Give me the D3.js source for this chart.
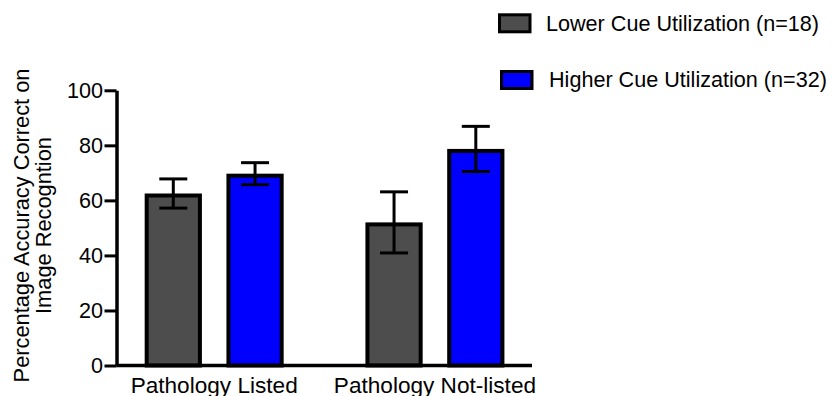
<!DOCTYPE html>
<html>
<head>
<meta charset="utf-8">
<script src="https://cdn.jsdelivr.net/npm/d3@7"></script>
<style>
  body { margin: 0; background: #fff; }
  svg text { font-family: "Liberation Sans", Arial, Helvetica, sans-serif; fill: #000; }
</style>
</head>
<body>
<svg id="chart" width="835" height="396"></svg>
<script>
const categories = ['Pathology Listed', 'Pathology Not-listed'];
const seriesNames = ['Lower Cue Utilization (n=18)', 'Higher Cue Utilization (n=32)'];
const seriesColors = ['#4d4d4d', '#0000ff'];
const lowerMeans = [62.5, 52.0];
const lowerErrors = [5.3, 11.1];
const higherMeans = [69.7, 78.7];
const higherErrors = [4.0, 8.2];
const yTicks = [0, 20, 40, 60, 80, 100];

const rows = [];
categories.forEach((c, i) => {
  rows.push({ cat: c, series: 0, mean: lowerMeans[i], err: lowerErrors[i] });
  rows.push({ cat: c, series: 1, mean: higherMeans[i], err: higherErrors[i] });
});

const svg = d3.select('#chart');

const y = d3.scaleLinear().domain([0, 100]).range([365.5, 90.3]);
const x0 = d3.scaleBand().domain(categories).range([103.8, 545.3]);
const x1 = d3.scaleBand().domain([0, 1]).range([0, x0.bandwidth()])
  .paddingInner(0.3).paddingOuter(0.5);

const bw = 4;

// bars
svg.append('g').selectAll('rect')
  .data(rows)
  .join('rect')
  .attr('x', d => x0(d.cat) + x1(d.series) + bw / 2)
  .attr('y', d => y(d.mean) + bw / 2)
  .attr('width', x1.bandwidth() - bw)
  .attr('height', d => y(0) - y(d.mean) - bw / 2)
  .attr('fill', d => seriesColors[d.series])
  .attr('stroke', '#000')
  .attr('stroke-width', bw);

// error bars
const eb = svg.append('g').attr('stroke', '#000').attr('stroke-width', 3);
const cx = d => x0(d.cat) + x1(d.series) + x1.bandwidth() / 2;
rows.forEach(d => {
  eb.append('line')
    .attr('x1', cx(d)).attr('x2', cx(d))
    .attr('y1', y(d.mean + d.err)).attr('y2', y(d.mean - d.err));
  [d.mean + d.err, d.mean - d.err].forEach(v => {
    eb.append('line')
      .attr('x1', cx(d) - 14).attr('x2', cx(d) + 14)
      .attr('y1', y(v)).attr('y2', y(v));
  });
});

// x baseline
svg.append('line')
  .attr('x1', 116.5).attr('x2', 532)
  .attr('y1', y(0)).attr('y2', y(0))
  .attr('stroke', '#000').attr('stroke-width', 3.5);

// y axis
const yAxis = svg.append('g')
  .attr('transform', 'translate(116.5,0)')
  .call(d3.axisLeft(y).tickValues(yTicks).tickSize(12).tickPadding(1.5).tickSizeOuter(0));
yAxis.select('.domain').attr('stroke-width', 3.5);
yAxis.selectAll('.tick line').attr('stroke-width', 3);
yAxis.selectAll('text').style('font-size', '21.6px');

// x axis labels
const xAxis = svg.append('g')
  .attr('transform', `translate(0,${y(0)})`)
  .call(d3.axisBottom(x0).tickSize(0).tickPadding(11));
xAxis.select('.domain').remove();
xAxis.selectAll('text').style('font-size', '22.6px');

// y title
const title = svg.append('text')
  .attr('transform', 'rotate(-90)')
  .attr('text-anchor', 'middle')
  .style('font-size', '21.8px');
title.append('tspan').attr('x', -225.5).attr('y', 29).text('Percentage Accuracy Correct on');
title.append('tspan').attr('x', -225.5).attr('y', 51).text('Image Recogntion');

// legend
const legendPos = [
  { rx: 499.5, ry: 14.8, tx: 546, ty: 31 },
  { rx: 501.5, ry: 71.5, tx: 549, ty: 87 }
];
seriesNames.forEach((name, i) => {
  const p = legendPos[i];
  svg.append('rect')
    .attr('x', p.rx).attr('y', p.ry)
    .attr('width', 30.5).attr('height', 17)
    .attr('fill', seriesColors[i])
    .attr('stroke', '#000')
    .attr('stroke-width', 3);
  svg.append('text')
    .attr('x', p.tx).attr('y', p.ty)
    .style('font-size', '21.6px')
    .text(name);
});
</script>
</body>
</html>
